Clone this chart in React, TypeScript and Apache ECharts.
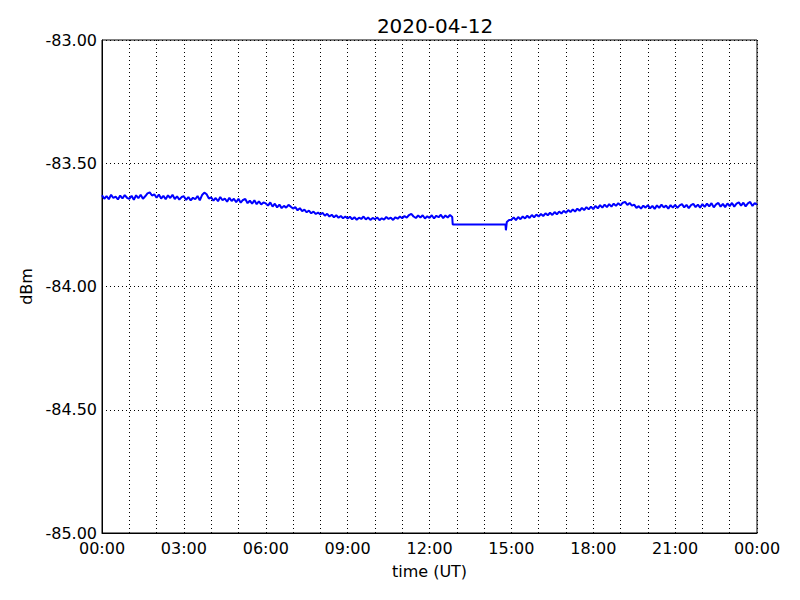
import React, { useEffect, useRef } from "react";
import * as echarts from "echarts";

const TITLE = "2020-04-12";
const X_NAME = "time (UT)";
const Y_NAME = "dBm";
const STEP_MIN = 5;

// 5-minute samples, one row per hour, 00:00 .. 12:50
const morningBlocks: number[][] = [
  [-83.630, -83.644, -83.633, -83.646, -83.628, -83.641, -83.635, -83.647, -83.631, -83.643, -83.629, -83.640],
  [-83.645, -83.632, -83.648, -83.630, -83.642, -83.628, -83.644, -83.634, -83.622, -83.618, -83.631, -83.626],
  [-83.640, -83.627, -83.643, -83.632, -83.646, -83.630, -83.641, -83.628, -83.645, -83.634, -83.648, -83.637],
  [-83.634, -83.649, -83.637, -83.651, -83.640, -83.646, -83.633, -83.650, -83.629, -83.619, -83.626, -83.643],
  [-83.638, -83.652, -83.641, -83.654, -83.637, -83.650, -83.643, -83.656, -83.640, -83.653, -83.644, -83.658],
  [-83.644, -83.660, -83.649, -83.645, -83.662, -83.652, -83.664, -83.650, -83.666, -83.655, -83.667, -83.659],
  [-83.663, -83.672, -83.659, -83.676, -83.664, -83.679, -83.668, -83.682, -83.673, -83.680, -83.669, -83.676],
  [-83.684, -83.678, -83.691, -83.682, -83.694, -83.688, -83.699, -83.692, -83.703, -83.696, -83.706, -83.700],
  [-83.708, -83.701, -83.713, -83.705, -83.716, -83.709, -83.719, -83.711, -83.721, -83.714, -83.723, -83.716],
  [-83.724, -83.717, -83.727, -83.719, -83.729, -83.721, -83.726, -83.716, -83.728, -83.720, -83.730, -83.722],
  [-83.727, -83.720, -83.731, -83.723, -83.729, -83.718, -83.726, -83.721, -83.730, -83.719, -83.725, -83.716],
  [-83.723, -83.714, -83.721, -83.710, -83.705, -83.716, -83.722, -83.712, -83.720, -83.711, -83.724, -83.715],
  [-83.722, -83.711, -83.724, -83.713, -83.719, -83.709, -83.723, -83.712, -83.720, -83.710, -83.718],
];

// the data gap (minutes since 00:00 and values)
const gapMinutes: number[] = [771, 887, 888, 890, 895];
const gapValues: number[] = [-83.748, -83.748, -83.772, -83.738, -83.730];

// 5-minute samples, one row per hour, 15:00 .. 23:55
const AFTERNOON_START_HOUR = 15;
const afternoonBlocks: number[][] = [
  [-83.729, -83.720, -83.731, -83.718, -83.727, -83.716, -83.724, -83.713, -83.722, -83.710, -83.719, -83.708],
  [-83.716, -83.706, -83.714, -83.703, -83.711, -83.701, -83.710, -83.698, -83.707, -83.696, -83.704, -83.693],
  [-83.701, -83.690, -83.698, -83.687, -83.696, -83.684, -83.693, -83.681, -83.690, -83.678, -83.687, -83.676],
  [-83.686, -83.673, -83.683, -83.670, -83.680, -83.668, -83.678, -83.666, -83.676, -83.664, -83.673, -83.662],
  [-83.671, -83.660, -83.657, -83.669, -83.661, -83.672, -83.668, -83.681, -83.674, -83.684, -83.672, -83.680],
  [-83.670, -83.683, -83.673, -83.685, -83.671, -83.681, -83.668, -83.679, -83.672, -83.684, -83.670, -83.680],
  [-83.669, -83.681, -83.671, -83.666, -83.679, -83.669, -83.682, -83.670, -83.665, -83.678, -83.668, -83.680],
  [-83.666, -83.677, -83.664, -83.675, -83.662, -83.679, -83.667, -83.661, -83.676, -83.665, -83.678, -83.663],
  [-83.674, -83.661, -83.676, -83.664, -83.659, -83.672, -83.660, -83.675, -83.663, -83.657, -83.673, -83.662],
];
const endMinute = 1440;
const endValue = -83.668;

const Y_MIN = -85;
const Y_MAX = -83;
const Y_STEP = 0.5;
const X_MIN = 0;
const X_MAX = 1440;
const X_GRID_STEP = 60;
const X_LABEL_STEP = 180;

function buildData(): [number, number][] {
  const out: [number, number][] = [];
  morningBlocks.forEach((row, h) =>
    row.forEach((v, i) => out.push([h * 60 + i * STEP_MIN, v]))
  );
  gapMinutes.forEach((m, i) => out.push([m, gapValues[i]]));
  afternoonBlocks.forEach((row, h) =>
    row.forEach((v, i) =>
      out.push([(AFTERNOON_START_HOUR + h) * 60 + i * STEP_MIN, v])
    )
  );
  out.push([endMinute, endValue]);
  return out;
}

function fmtTime(m: number): string {
  const mm = ((m % 1440) + 1440) % 1440;
  const h = Math.floor(mm / 60);
  const mi = Math.round(mm % 60);
  return String(h).padStart(2, "0") + ":" + String(mi).padStart(2, "0");
}

const FONT = "DejaVu Sans";

export default function App() {
  const ref = useRef<HTMLDivElement>(null);
  useEffect(() => {
    if (!ref.current) return;
    const chart = echarts.init(ref.current, undefined, { renderer: "svg" });
    const dotted = { color: "#000", width: 1, type: [1, 3] as number[] };
    chart.setOption({
      animation: false,
      backgroundColor: "#fff",
      title: {
        text: TITLE,
        left: 430,
        top: 11,
        textAlign: "center",
        textStyle: { fontFamily: FONT, fontSize: 20, fontWeight: "normal", color: "#000" },
      },
      grid: {
        left: 102,
        top: 40,
        right: 43,
        bottom: 67,
        show: true,
        borderColor: "#000",
        borderWidth: 1,
        backgroundColor: "transparent",
      },
      xAxis: {
        type: "value",
        min: X_MIN,
        max: X_MAX,
        interval: X_GRID_STEP,
        name: X_NAME,
        nameLocation: "middle",
        nameGap: 30,
        nameTextStyle: { fontFamily: FONT, fontSize: 16, color: "#000" },
        axisLine: { show: true, onZero: false, lineStyle: { color: "#000", width: 1 } },
        axisTick: { show: false },
        axisLabel: {
          fontFamily: FONT,
          fontSize: 16,
          color: "#000",
          margin: 7,
          showMinLabel: true,
          showMaxLabel: true,
          formatter: (v: number) => (v % X_LABEL_STEP === 0 ? fmtTime(v) : ""),
        },
        splitLine: { show: true, lineStyle: dotted },
      },
      yAxis: {
        type: "value",
        min: Y_MIN,
        max: Y_MAX,
        interval: Y_STEP,
        name: Y_NAME,
        nameLocation: "middle",
        nameGap: 66,
        nameRotate: 90,
        nameTextStyle: { fontFamily: FONT, fontSize: 16, color: "#000" },
        axisLine: { show: true, onZero: false, lineStyle: { color: "#000", width: 1 } },
        axisTick: { show: false },
        axisLabel: {
          fontFamily: FONT,
          fontSize: 16,
          color: "#000",
          margin: 5,
          formatter: (v: number) => v.toFixed(2),
        },
        splitLine: { show: true, lineStyle: dotted },
      },
      series: [
        {
          type: "line",
          data: buildData(),
          showSymbol: false,
          symbol: "none",
          lineStyle: { color: "#0000ff", width: 2 },
          itemStyle: { color: "#0000ff" },
        },
      ],
    });
    return () => chart.dispose();
  }, []);
  return (
    <div
      ref={ref}
      style={{ position: "absolute", left: 0, top: 0, width: 800, height: 600 }}
    />
  );
}
